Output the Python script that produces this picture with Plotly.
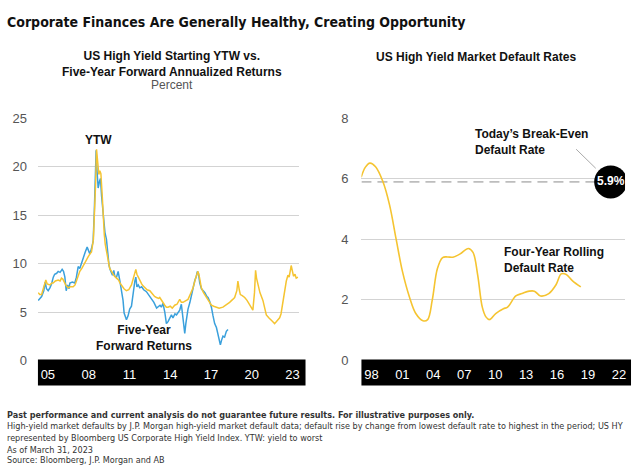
import plotly.graph_objects as go

# ---------------- data ----------------
# Left: US HY starting YTW vs five-year forward annualized returns (percent)
fwd_years = [2004.29, 2004.45, 2004.54, 2004.7, 2004.8, 2004.9, 2005.02, 2005.15, 2005.27, 2005.4, 2005.5,
             2005.65, 2005.76, 2005.9, 2006.05, 2006.15, 2006.25, 2006.35, 2006.45, 2006.55, 2006.62, 2006.8,
             2006.98, 2007.1, 2007.23, 2007.35, 2007.5, 2007.6, 2007.75, 2007.89, 2008.0, 2008.09, 2008.2,
             2008.33, 2008.42, 2008.5, 2008.55, 2008.62, 2008.7, 2008.8, 2008.87, 2008.95, 2009.07, 2009.15,
             2009.2, 2009.31, 2009.4, 2009.5, 2009.6, 2009.75, 2009.85, 2009.92, 2010.05, 2010.17, 2010.3,
             2010.41, 2010.53, 2010.61, 2010.7, 2010.78, 2010.9, 2011.02, 2011.15, 2011.27, 2011.4, 2011.47,
             2011.55, 2011.65, 2011.76, 2011.9, 2012.05, 2012.25, 2012.4, 2012.5, 2012.62, 2012.8, 2013.0,
             2013.1, 2013.25, 2013.35, 2013.47, 2013.6, 2013.72, 2013.84, 2014.0, 2014.09, 2014.2, 2014.35,
             2014.46, 2014.6, 2014.7, 2014.82, 2014.95, 2015.07, 2015.15, 2015.31, 2015.45, 2015.56, 2015.7,
             2015.8, 2015.92, 2016.0, 2016.08, 2016.17, 2016.3, 2016.41, 2016.55, 2016.7, 2016.78, 2016.9,
             2017.03, 2017.15, 2017.27, 2017.4, 2017.51, 2017.6, 2017.69, 2017.78, 2017.88, 2018.0, 2018.13,
             2018.25]
fwd_returns = [6.2, 6.4, 6.6, 7.2, 8.1, 7.4, 7.2, 7.5, 7.9, 8.6, 8.9,
               9.0, 9.2, 9.1, 9.4, 9.2, 8.6, 7.2, 7.8, 7.4, 8.0, 8.1,
               8.0, 8.6, 9.7, 9.5, 10.2, 10.4, 11.2, 11.7, 11.2, 11.0, 11.5,
               12.3, 15.5, 20.5, 21.7, 19.5, 17.8, 18.5, 18.8, 17.0, 15.2, 14.3,
               13.2, 12.5, 11.0, 9.8, 9.3, 8.8, 9.3, 8.7, 8.6, 9.2, 8.2,
               7.2, 6.2, 4.9, 4.4, 4.2, 4.6, 5.3, 5.6, 7.2, 8.2, 8.6,
               7.6, 7.8, 7.5, 7.6, 7.3, 7.1, 6.8, 6.5, 6.3, 6.0, 5.4,
               5.5, 5.7, 5.5, 5.9, 5.0, 3.8, 4.0, 4.5, 4.7, 4.4, 4.8,
               4.7, 5.0, 5.2, 5.8, 4.5, 2.8, 3.8, 5.3, 6.0, 6.8, 7.6,
               8.2, 8.7, 9.2, 9.0, 8.0, 7.4, 7.2, 7.0, 6.6, 6.5, 6.1,
               5.5, 4.6, 3.8, 3.4, 2.8, 2.2, 1.6, 2.1, 2.5, 2.4, 3.0,
               3.2]

ytw_years = [2004.29, 2004.4, 2004.54, 2004.7, 2004.85, 2004.95, 2005.15, 2005.3, 2005.39, 2005.55, 2005.76,
             2005.9, 2006.0, 2006.1, 2006.25, 2006.35, 2006.49, 2006.65, 2006.86, 2007.0, 2007.1, 2007.25,
             2007.35, 2007.5, 2007.6, 2007.72, 2007.85, 2007.96, 2008.1, 2008.21, 2008.35, 2008.45, 2008.52,
             2008.58, 2008.65, 2008.75, 2008.82, 2008.9, 2009.0, 2009.07, 2009.15, 2009.22, 2009.31, 2009.45,
             2009.55, 2009.68, 2009.85, 2010.05, 2010.2, 2010.3, 2010.41, 2010.6, 2010.78, 2010.95, 2011.15,
             2011.3, 2011.47, 2011.55, 2011.65, 2011.76, 2011.9, 2012.0, 2012.13, 2012.3, 2012.5, 2012.7,
             2012.85, 2012.99, 2013.15, 2013.23, 2013.35, 2013.47, 2013.6, 2013.72, 2013.84, 2014.0, 2014.15,
             2014.33, 2014.5, 2014.7, 2014.82, 2014.94, 2015.1, 2015.31, 2015.5, 2015.68, 2015.85, 2016.04,
             2016.15, 2016.29, 2016.45, 2016.66, 2016.85, 2017.03, 2017.2, 2017.4, 2017.6, 2017.88, 2018.1,
             2018.37, 2018.6, 2018.74, 2018.9, 2018.98, 2019.08, 2019.16, 2019.3, 2019.48, 2019.65, 2019.84,
             2020.08, 2020.2, 2020.28, 2020.35, 2020.45, 2020.6, 2020.82, 2020.95, 2021.07, 2021.25, 2021.44,
             2021.55, 2021.68, 2021.8, 2021.92, 2022.05, 2022.15, 2022.29, 2022.45, 2022.54, 2022.66, 2022.75,
             2022.9, 2022.98, 2023.07, 2023.18, 2023.27, 2023.4]
ytw_values = [7.0, 6.8, 6.8, 7.5, 8.3, 7.9, 7.8, 8.0, 8.0, 8.2, 8.3,
              8.2, 8.5, 8.4, 8.0, 7.7, 7.5, 7.6, 7.6, 7.8, 8.2, 8.8,
              9.2, 9.5, 9.8, 10.0, 10.4, 10.7, 11.0, 11.2, 12.5, 15.2, 18.5,
              21.8, 20.5, 19.2, 19.6, 19.3, 17.0, 14.8, 13.0, 12.0, 11.2, 10.0,
              9.5, 9.2, 8.8, 8.5, 8.3, 8.0, 7.8, 7.4, 7.2, 7.3, 7.8,
              8.5, 9.4, 8.9, 8.6, 8.2, 7.9, 7.7, 7.5, 7.3, 7.2, 6.8,
              6.6, 6.5, 6.4, 6.5, 6.2, 6.0, 5.7, 5.5, 5.5, 5.6, 5.4,
              5.7, 5.8, 6.3, 6.0, 6.0, 6.1, 6.3, 6.9, 7.5, 8.4, 9.2,
              8.6, 7.5, 7.0, 6.5, 6.0, 5.7, 5.6, 5.5, 5.4, 5.5, 5.7,
              6.0, 6.3, 6.5, 7.2, 8.2, 7.3, 6.8, 6.7, 6.5, 6.2, 5.8,
              5.2, 7.0, 9.3, 8.5, 7.8, 7.0, 6.2, 5.4, 4.7, 4.4, 4.2,
              4.0, 3.8, 4.0, 4.2, 4.4, 4.8, 6.2, 7.5, 8.2, 8.8, 8.6,
              9.8, 9.2, 8.7, 8.9, 8.5, 8.6]

left_tick_years = [2005, 2008, 2011, 2014, 2017, 2020, 2023]
left_tick_labels = ["05", "08", "11", "14", "17", "20", "23"]
left_y_ticks = [0, 5, 10, 15, 20, 25]

# Right: US HY four-year rolling default rate (percent)
dr_years = [1997.0, 1997.4, 1997.85, 1998.4, 1999.1, 1999.75, 2000.4, 2001.0, 2001.7, 2002.3, 2003.0,
            2003.45, 2003.9, 2004.4, 2004.9, 2005.4, 2005.9, 2006.6, 2007.4, 2007.85, 2008.3, 2008.75,
            2009.1, 2009.45, 2010.05, 2010.8, 2011.2, 2012.0, 2012.6, 2013.3, 2013.8, 2014.4, 2015.2,
            2015.9, 2016.4, 2016.85, 2017.5, 2018.3]
dr_values = [6.05, 6.38, 6.52, 6.4, 5.92, 5.15, 4.0, 2.95, 2.08, 1.55, 1.31,
             1.35, 2.0, 3.04, 3.4, 3.42, 3.41, 3.52, 3.70, 3.57, 2.83, 1.76,
             1.44, 1.35, 1.55, 1.71, 1.76, 2.13, 2.21, 2.29, 2.29, 2.13, 2.21,
             2.5, 2.86, 2.85, 2.63, 2.43]
breakeven_rate = 5.9
breakeven_label = "5.9%"

right_tick_years = [1998, 2001, 2004, 2007, 2010, 2013, 2016, 2019, 2022]
right_tick_labels = ["98", "01", "04", "07", "10", "13", "16", "19", "22"]
right_y_ticks = [0, 2, 4, 6, 8]

# ---------------- style ----------------
W, H = 640, 473
GOLD = "#F5C431"
BLUE = "#3AA0DC"
GRID = "#D3D3D3"
FONT = "Liberation Sans, Arial, Helvetica, sans-serif"
NARROW = "Liberation Sans Narrow, Arial Narrow, DejaVu Sans Condensed, sans-serif"

def px(xp):
    return xp / W

def py(yp):
    return 1 - yp / H

fig = go.Figure()

fig.add_trace(go.Scatter(x=fwd_years, y=fwd_returns, mode="lines",
                         line=dict(color=BLUE, width=1.5), xaxis="x", yaxis="y",
                         hoverinfo="skip", showlegend=False))
fig.add_trace(go.Scatter(x=ytw_years, y=ytw_values, mode="lines",
                         line=dict(color=GOLD, width=1.5), xaxis="x", yaxis="y",
                         hoverinfo="skip", showlegend=False))

# right panel
circle_x = 2021.2
fig.add_trace(go.Scatter(x=[1997.03, circle_x], y=[breakeven_rate, breakeven_rate], mode="lines",
                         line=dict(color="#BDBDBD", width=1.6, dash="10px,6px"),
                         xaxis="x2", yaxis="y2", hoverinfo="skip", showlegend=False))
fig.add_trace(go.Scatter(x=dr_years, y=dr_values, mode="lines", line_shape="spline",
                         line=dict(color=GOLD, width=1.6), xaxis="x2", yaxis="y2",
                         hoverinfo="skip", showlegend=False))
fig.add_trace(go.Scatter(x=[circle_x], y=[breakeven_rate], mode="markers+text",
                         marker=dict(color="black", size=33),
                         text=[breakeven_label], textposition="middle center",
                         textfont=dict(color="white", size=12, family=FONT, weight="bold"),
                         xaxis="x2", yaxis="y2", hoverinfo="skip", showlegend=False))

y_dom = [py(365), py(115)]
axis_common = dict(showline=False, zeroline=False, ticks="", fixedrange=True)

fig.update_layout(
    width=W, height=H,
    margin=dict(l=0, r=0, t=0, b=0),
    paper_bgcolor="white", plot_bgcolor="white",
    font=dict(family=FONT, color="#222"),
    xaxis=dict(domain=[px(38), px(299)], range=[2004.27, 2023.44],
               tickvals=left_tick_years, ticktext=left_tick_labels,
               tickfont=dict(color="white", size=13), showgrid=False,
               ticklabelstandoff=5, anchor="y", **axis_common),
    yaxis=dict(domain=y_dom, range=[0, 25], tickvals=left_y_ticks,
               tickfont=dict(color="#555", size=13), showgrid=True, gridcolor=GRID,
               gridwidth=1, ticklabelstandoff=10, anchor="x", **axis_common),
    xaxis2=dict(domain=[px(362), px(626)], range=[1997.03, 2022.59],
                tickvals=right_tick_years, ticktext=right_tick_labels,
                tickfont=dict(color="white", size=13), showgrid=False,
                ticklabelstandoff=5, anchor="y2", **axis_common),
    yaxis2=dict(domain=y_dom, range=[0, 8], tickvals=right_y_ticks,
                tickfont=dict(color="#555", size=13), showgrid=True, gridcolor=GRID,
                gridwidth=1, ticklabelstandoff=12, anchor="x2", **axis_common),
)

# black bands behind x tick labels
fig.add_shape(type="rect", xref="paper", yref="paper", x0=px(38), x1=px(306),
              y0=py(391), y1=py(364), fillcolor="black", line_width=0, layer="below")
fig.add_shape(type="rect", xref="paper", yref="paper", x0=px(362), x1=px(632),
              y0=py(391), y1=py(364), fillcolor="black", line_width=0, layer="below")

# leader line to the circle
fig.add_shape(type="line", xref="x2", yref="y2", x0=2017.85, y0=6.98, x1=2019.75, y1=6.35,
              line=dict(color="#AAAAAA", width=1))

ann = []
# main title
ann.append(dict(text="<b>Corporate Finances Are Generally Healthy, Creating Opportunity</b>",
                xref="paper", yref="paper", x=px(5), y=py(15), xanchor="left", yanchor="middle",
                showarrow=False, font=dict(family=NARROW, size=14, color="#111")))
# subplot titles
ann.append(dict(text="<b>US High Yield Starting YTW vs.<br>Five-Year Forward Annualized Returns</b>",
                xref="paper", yref="paper", x=px(172), y=py(59), xanchor="center", yanchor="middle",
                showarrow=False, font=dict(size=12, color="#111")))
ann.append(dict(text="Percent", xref="paper", yref="paper", x=px(172), y=py(81),
                xanchor="center", yanchor="middle", showarrow=False,
                font=dict(size=12, color="#555")))
ann.append(dict(text="<b>US High Yield Market Default Rates</b>", xref="paper", yref="paper",
                x=px(477), y=py(52), xanchor="center", yanchor="middle", showarrow=False,
                font=dict(size=12, color="#111")))
# in-chart labels
ann.append(dict(text="<b>YTW</b>", xref="x", yref="y", x=2008.75, y=22.8,
                xanchor="center", yanchor="middle", showarrow=False,
                font=dict(size=12, color="#111")))
ann.append(dict(text="<b>Five-Year<br>Forward Returns</b>", xref="x", yref="y", x=2012.1, y=2.35,
                xanchor="center", yanchor="middle", showarrow=False,
                font=dict(size=12, color="#111")))
ann.append(dict(text="<b>Today’s Break-Even<br>Default Rate</b>", xref="x2", yref="y2",
                x=2007.85, y=7.22, xanchor="left", yanchor="middle", align="left",
                showarrow=False, font=dict(size=12, color="#111")))
ann.append(dict(text="<b>Four-Year Rolling<br>Default Rate</b>", xref="x2", yref="y2",
                x=2010.65, y=3.33, xanchor="left", yanchor="middle", align="left",
                showarrow=False, font=dict(size=12, color="#111")))

# footnotes
notes = [
    ("<b>Past performance and current analysis do not guarantee future results. For illustrative purposes only.</b>", 421),
    ("High-yield market defaults by J.P. Morgan high-yield market default data; default rise by change from lowest default rate to highest in the period; US HY", 433),
    ("represented by Bloomberg US Corporate High Yield Index. YTW: yield to worst", 445),
    ("As of March 31, 2023", 457),
    ("Source: Bloomberg, J.P. Morgan and AB", 468),
]
for txt, yy in notes:
    ann.append(dict(text=txt, xref="paper", yref="paper", x=px(5), y=py(yy),
                    xanchor="left", yanchor="middle", showarrow=False,
                    font=dict(family=NARROW, size=9, color="#333")))

fig.update_layout(annotations=ann)

fig.write_html("out.html", config={"displayModeBar": False},
               post_script="document.body.style.margin='0';document.body.style.overflow='hidden';")
